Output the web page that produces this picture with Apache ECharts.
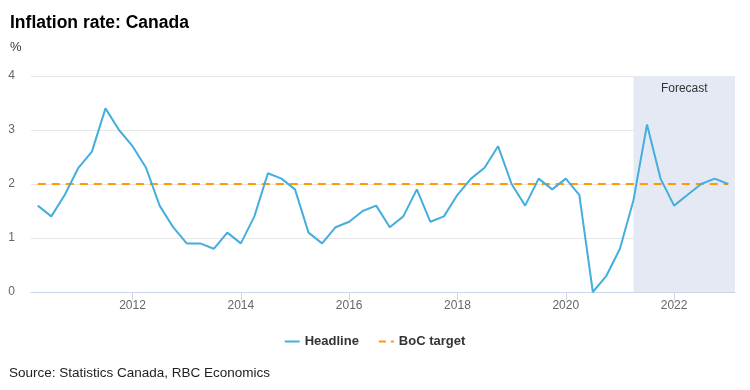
<!DOCTYPE html>
<html>
<head>
<meta charset="utf-8">
<script src="https://cdn.jsdelivr.net/npm/echarts@6/dist/echarts.min.js"></script>
<style>html,body{margin:0;padding:0;background:#fff;}#chart{width:750px;height:390px;}</style>
</head>
<body>
<div id="chart"></div>
<script>
// Quarterly categories 2010Q1 .. 2022Q4
const years = [2010,2011,2012,2013,2014,2015,2016,2017,2018,2019,2020,2021,2022];
const quarters = [];
years.forEach(y => { for (let q = 1; q <= 4; q++) quarters.push(y + 'Q' + q); });

// Headline CPI inflation, % y/y
const headline = [
  1.6, 1.4, 1.8, 2.3,
  2.6, 3.4, 3.0, 2.7,
  2.3, 1.6, 1.2, 0.9,
  0.9, 0.8, 1.1, 0.9,
  1.4, 2.2, 2.1, 1.9,
  1.1, 0.9, 1.2, 1.3,
  1.5, 1.6, 1.2, 1.4,
  1.9, 1.3, 1.4, 1.8,
  2.1, 2.3, 2.7, 2.0,
  1.6, 2.1, 1.9, 2.1,
  1.8, 0.0, 0.3, 0.8,
  1.7, 3.1, 2.1, 1.6,
  1.8, 2.0, 2.1, 2.0
];
// Bank of Canada target
const bocTarget = [['2010Q1', 2], ['2022Q4', 2]];
// Forecast period start
const forecastStart = '2021Q1';
// Tick labels (year-end quarter maps to next year)
const tickLabels = {'2011Q4':'2012','2013Q4':'2014','2015Q4':'2016','2017Q4':'2018','2019Q4':'2020','2021Q4':'2022'};
const yTicks = [0, 1, 2, 3, 4];

const chart = echarts.init(document.getElementById('chart'), null, {renderer: 'canvas'});
const showTick = (i, v) => tickLabels.hasOwnProperty(v);
const fcIdx = quarters.indexOf(forecastStart);

chart.setOption({
  animation: false,
  backgroundColor: '#fff',
  title: [
    {text: 'Inflation rate: Canada', left: 5, top: 9,
     textStyle: {fontFamily: 'Liberation Sans, Arial', fontSize: 17.5, fontWeight: 'bold', color: '#000'}},
    {text: '%', left: 5, top: 36,
     textStyle: {fontFamily: 'Liberation Sans, Arial', fontSize: 13, fontWeight: 'normal', color: '#333'}},
    {text: 'Source: Statistics Canada, RBC Economics', left: 4, top: 361,
     textStyle: {fontFamily: 'Liberation Sans, Arial', fontSize: 13.5, fontWeight: 'normal', color: '#222'}}
  ],
  legend: {
    data: [
      {name: 'Headline', icon: 'rect'},
      {name: 'BoC target', icon: 'path://M0,0h7v2h-7z M12,0h3v2h-3z'}
    ],
    top: 330, left: 'center',
    itemWidth: 15, itemHeight: 2, itemGap: 20,
    textStyle: {fontFamily: 'Liberation Sans, Arial', fontSize: 13, fontWeight: 'bold', color: '#333'}
  },
  grid: {left: 31, right: 15, top: 76, bottom: 98},
  xAxis: [
    {
      type: 'category', data: quarters, boundaryGap: true,
      axisLine: {lineStyle: {color: '#ccd6eb', width: 1}},
      axisTick: {show: true, alignWithLabel: true, interval: showTick, length: 8, lineStyle: {color: '#ccd6eb'}},
      axisLabel: {interval: showTick, formatter: v => tickLabels[v] || '', margin: 8,
        fontFamily: 'Liberation Sans, Arial', fontSize: 12, color: '#666'},
      splitLine: {show: false}
    },
    {
      type: 'value', show: false, min: -0.5, max: quarters.length - 0.5
    }
  ],
  yAxis: {
    type: 'value', min: yTicks[0], max: yTicks[yTicks.length - 1], interval: 1,
    axisLine: {show: false}, axisTick: {show: false},
    axisLabel: {margin: 16, fontFamily: 'Liberation Sans, Arial', fontSize: 12, color: '#666'},
    splitLine: {lineStyle: {color: '#e6e6e6', width: 1}}
  },
  series: [
    {
      name: 'Forecast area', type: 'line', xAxisIndex: 1, data: [], silent: true,
      markArea: {
        silent: true,
        itemStyle: {color: '#e5e9f4'},
        label: {show: true, position: 'insideTop', distance: 7, color: '#333',
          fontFamily: 'Liberation Sans, Arial', fontSize: 12},
        data: [[{name: 'Forecast', xAxis: fcIdx}, {xAxis: quarters.length - 0.5}]]
      }
    },
    {
      name: 'Headline', type: 'line', data: headline, showSymbol: false, symbol: 'none',
      color: '#44aedc',
      lineStyle: {color: '#44aedc', width: 2}, z: 3
    },
    {
      name: 'BoC target', type: 'line', data: bocTarget, showSymbol: false, symbol: 'none',
      color: '#ff9a00',
      lineStyle: {color: '#ff9a00', width: 2, type: [8, 6]}, z: 2
    }
  ]
});
</script>
</body>
</html>
